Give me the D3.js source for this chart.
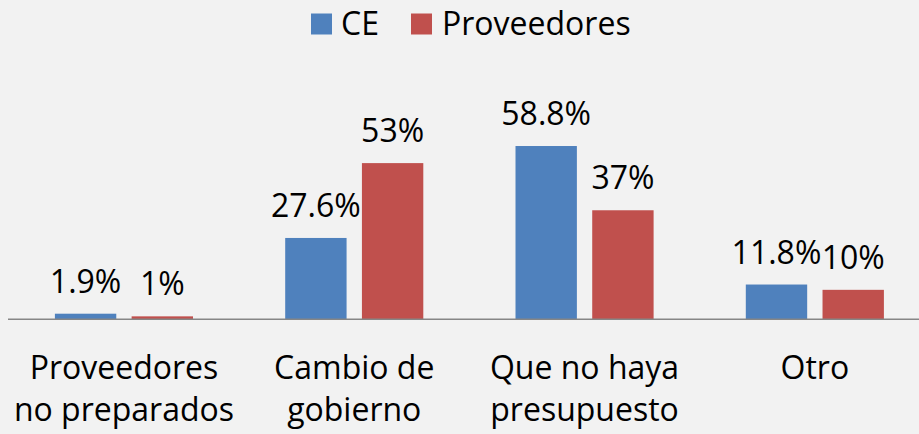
<!DOCTYPE html>
<html>
<head>
<meta charset="utf-8">
<script src="https://cdn.jsdelivr.net/npm/d3@7"></script>
<style>
  html, body { margin: 0; padding: 0; background: #f2f2f2; }
  svg { display: block; }
  text { font-family: "Open Sans", sans-serif; fill: #000; }
</style>
</head>
<body>
<svg id="chart" width="919" height="434"></svg>
<script>
const categories = [["Proveedores", "no preparados"], ["Cambio de", "gobierno"], ["Que no haya", "presupuesto"], ["Otro"]];
const seriesNames = ["CE", "Proveedores"];
const ceValues = [1.9, 27.6, 58.8, 11.8];
const provValues = [1, 53, 37, 10];
const ceLabels = ["1.9%", "27.6%", "58.8%", "11.8%"];
const provLabels = ["1%", "53%", "37%", "10%"];
const colors = ["#4f81bd", "#c0504d"];

const svg = d3.select("#chart");
const W = 919, H = 434;
const baseY = 319.3;
const catKeys = categories.map((c, i) => i);

const x0 = d3.scaleBand().domain(catKeys).range([8.8, 8.8 + 4 * 230.3]).padding(0);
const x1 = d3.scaleBand().domain(seriesNames).range([46.1, 184.2]).paddingInner(0.2).paddingOuter(0);
const y = d3.scaleLinear().domain([0, 60]).range([baseY, baseY - 60 * 2.947]);

const data = catKeys.map(i => ({
  i,
  vals: [
    { s: "CE", v: ceValues[i], label: ceLabels[i], c: colors[0] },
    { s: "Proveedores", v: provValues[i], label: provLabels[i], c: colors[1] }
  ]
}));

const g = svg.selectAll("g.cat").data(data).enter().append("g")
  .attr("class", "cat")
  .attr("transform", d => `translate(${x0(d.i)},0)`);

g.selectAll("rect").data(d => d.vals).enter().append("rect")
  .attr("x", d => x1(d.s))
  .attr("width", x1.bandwidth())
  .attr("y", d => y(d.v))
  .attr("height", d => baseY - y(d.v))
  .attr("fill", d => d.c);

g.selectAll("text.val").data(d => d.vals).enter().append("text")
  .attr("class", "val")
  .attr("x", d => x1(d.s) + x1.bandwidth() / 2)
  .attr("y", d => y(d.v) - 21)
  .attr("text-anchor", "middle")
  .style("font-size", "32px")
  .text(d => d.label);

// axis baseline
svg.append("line")
  .attr("x1", 8).attr("x2", W)
  .attr("y1", baseY).attr("y2", baseY)
  .attr("stroke", "#868686").attr("stroke-width", 1.5);

// category labels
const cl = svg.selectAll("text.cat").data(data).enter().append("text")
  .attr("class", "cat")
  .attr("text-anchor", "middle")
  .style("font-size", "32px");
cl.each(function(d) {
  const t = d3.select(this);
  categories[d.i].forEach((line, k) => {
    t.append("tspan")
      .attr("x", x0(d.i) + x0.bandwidth() / 2)
      .attr("y", 378.5 + k * 42)
      .text(line);
  });
});

// legend
const legendItems = [
  { name: seriesNames[0], c: colors[0], sx: 311, tx: 341 },
  { name: seriesNames[1], c: colors[1], sx: 411, tx: 442 }
];
const lg = svg.append("g");
legendItems.forEach(it => {
  lg.append("rect").attr("x", it.sx).attr("y", 13.5).attr("width", 21).attr("height", 21).attr("fill", it.c);
  lg.append("text").attr("x", it.tx).attr("y", 35).style("font-size", "32px").text(it.name);
});
</script>
</body>
</html>
